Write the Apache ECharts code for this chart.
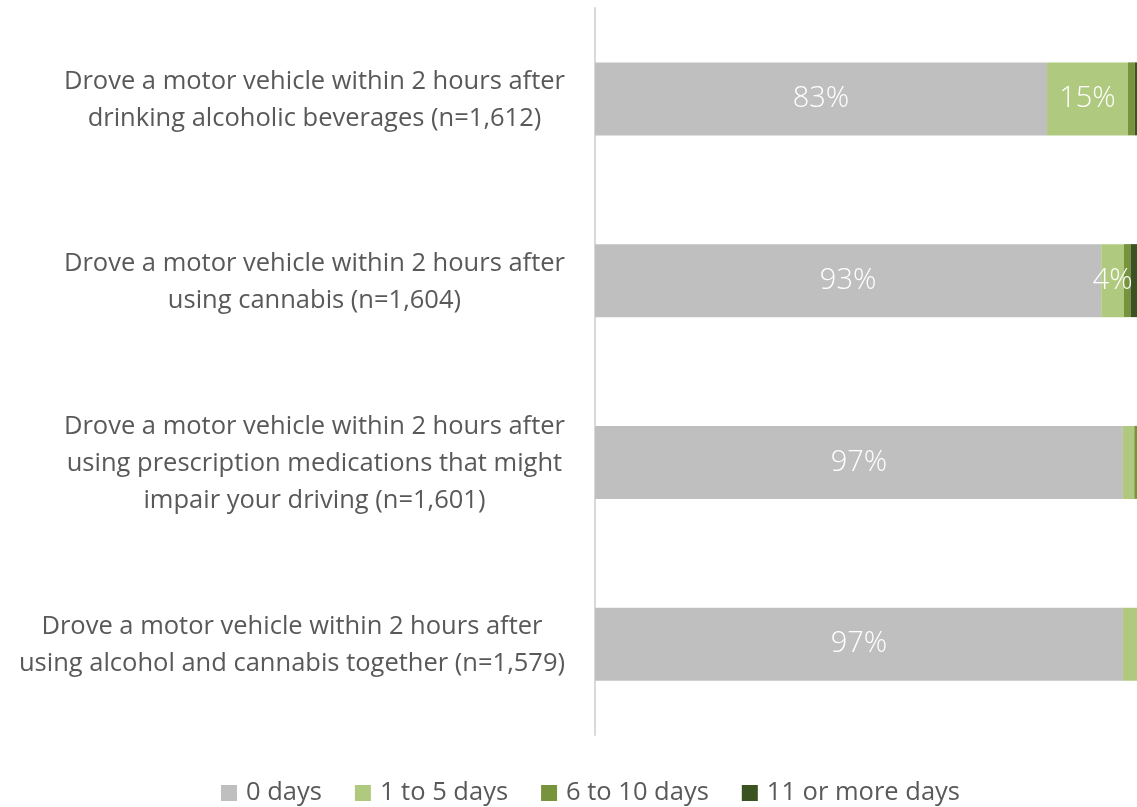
<!DOCTYPE html>
<html>
<head>
<meta charset="utf-8">
<script src="https://cdn.jsdelivr.net/npm/echarts@6/dist/echarts.min.js"></script>
<style>
  html, body { margin: 0; padding: 0; background: #fff; }
  #chart { width: 1137px; height: 807px; }
</style>
</head>
<body>
<div id="chart"></div>
<script>
var chart = echarts.init(document.getElementById('chart'));

// categories, top to bottom
var categories = [
    'Drove a motor vehicle within 2 hours after\ndrinking alcoholic beverages (n=1,612)',
    'Drove a motor vehicle within 2 hours after\nusing cannabis (n=1,604)',
    'Drove a motor vehicle within 2 hours after\nusing prescription medications that might\nimpair your driving (n=1,601)',
    'Drove a motor vehicle within 2 hours after\nusing alcohol and cannabis together (n=1,579)'
];
var seriesNames = ['0 days', '1 to 5 days', '6 to 10 days', '11 or more days'];
var days0 = [83.4, 93.4, 97.4, 97.4];
var days1to5 = [14.9, 4.2, 2.1, 2.6];
var days6to10 = [1.3, 1.2, 0.5, 0];
var days11plus = [0.4, 1.2, 0, 0];

var colorList = ['#BFBFBF', '#AFCA7E', '#77933C', '#3A5320'];
var allValues = [days0, days1to5, days6to10, days11plus];
var font = 'Open Sans';

var series = allValues.map(function(vals, i) {
    return {
        name: seriesNames[i],
        type: 'bar',
        stack: 'total',
        barWidth: 73,
        itemStyle: { color: colorList[i] },
        label: {
            show: true,
            position: 'inside',
            color: '#fff',
            fontSize: 29,
            fontWeight: 300,
            fontFamily: font,
            formatter: function(p) {
                return p.value >= 3.5 ? Math.round(p.value) + '%' : '';
            }
        },
        // reversed so the first category sits at the top
        data: vals.slice().reverse()
    };
});

var option = {
    animation: false,
    grid: { left: 595, right: 0, top: 8, bottom: 72 },
    legend: {
        bottom: -4,
        left: 216,
        icon: 'rect',
        itemWidth: 16,
        itemHeight: 16,
        itemGap: 33,
        textStyle: { color: '#595959', fontSize: 25.5, fontFamily: font, padding: [0, 0, 0, 4] },
        data: seriesNames
    },
    xAxis: {
        type: 'value',
        min: 0,
        max: 100,
        show: false
    },
    yAxis: {
        type: 'category',
        data: categories.slice().reverse(),
        axisLine: { show: true, lineStyle: { color: '#D9D9D9', width: 2 } },
        axisTick: { show: false },
        axisLabel: {
            margin: 30,
            formatter: function(v) {
                return v.split('\n').map(function(s) { return '{a|' + s + '}'; }).join('\n');
            },
            rich: {
                a: {
                    align: 'center',
                    color: '#595959',
                    fontSize: 25.5,
                    fontFamily: font,
                    lineHeight: 37,
                    padding: [3, 0, 0, 0]
                }
            }
        }
    },
    series: series
};

chart.setOption(option);
</script>
</body>
</html>
